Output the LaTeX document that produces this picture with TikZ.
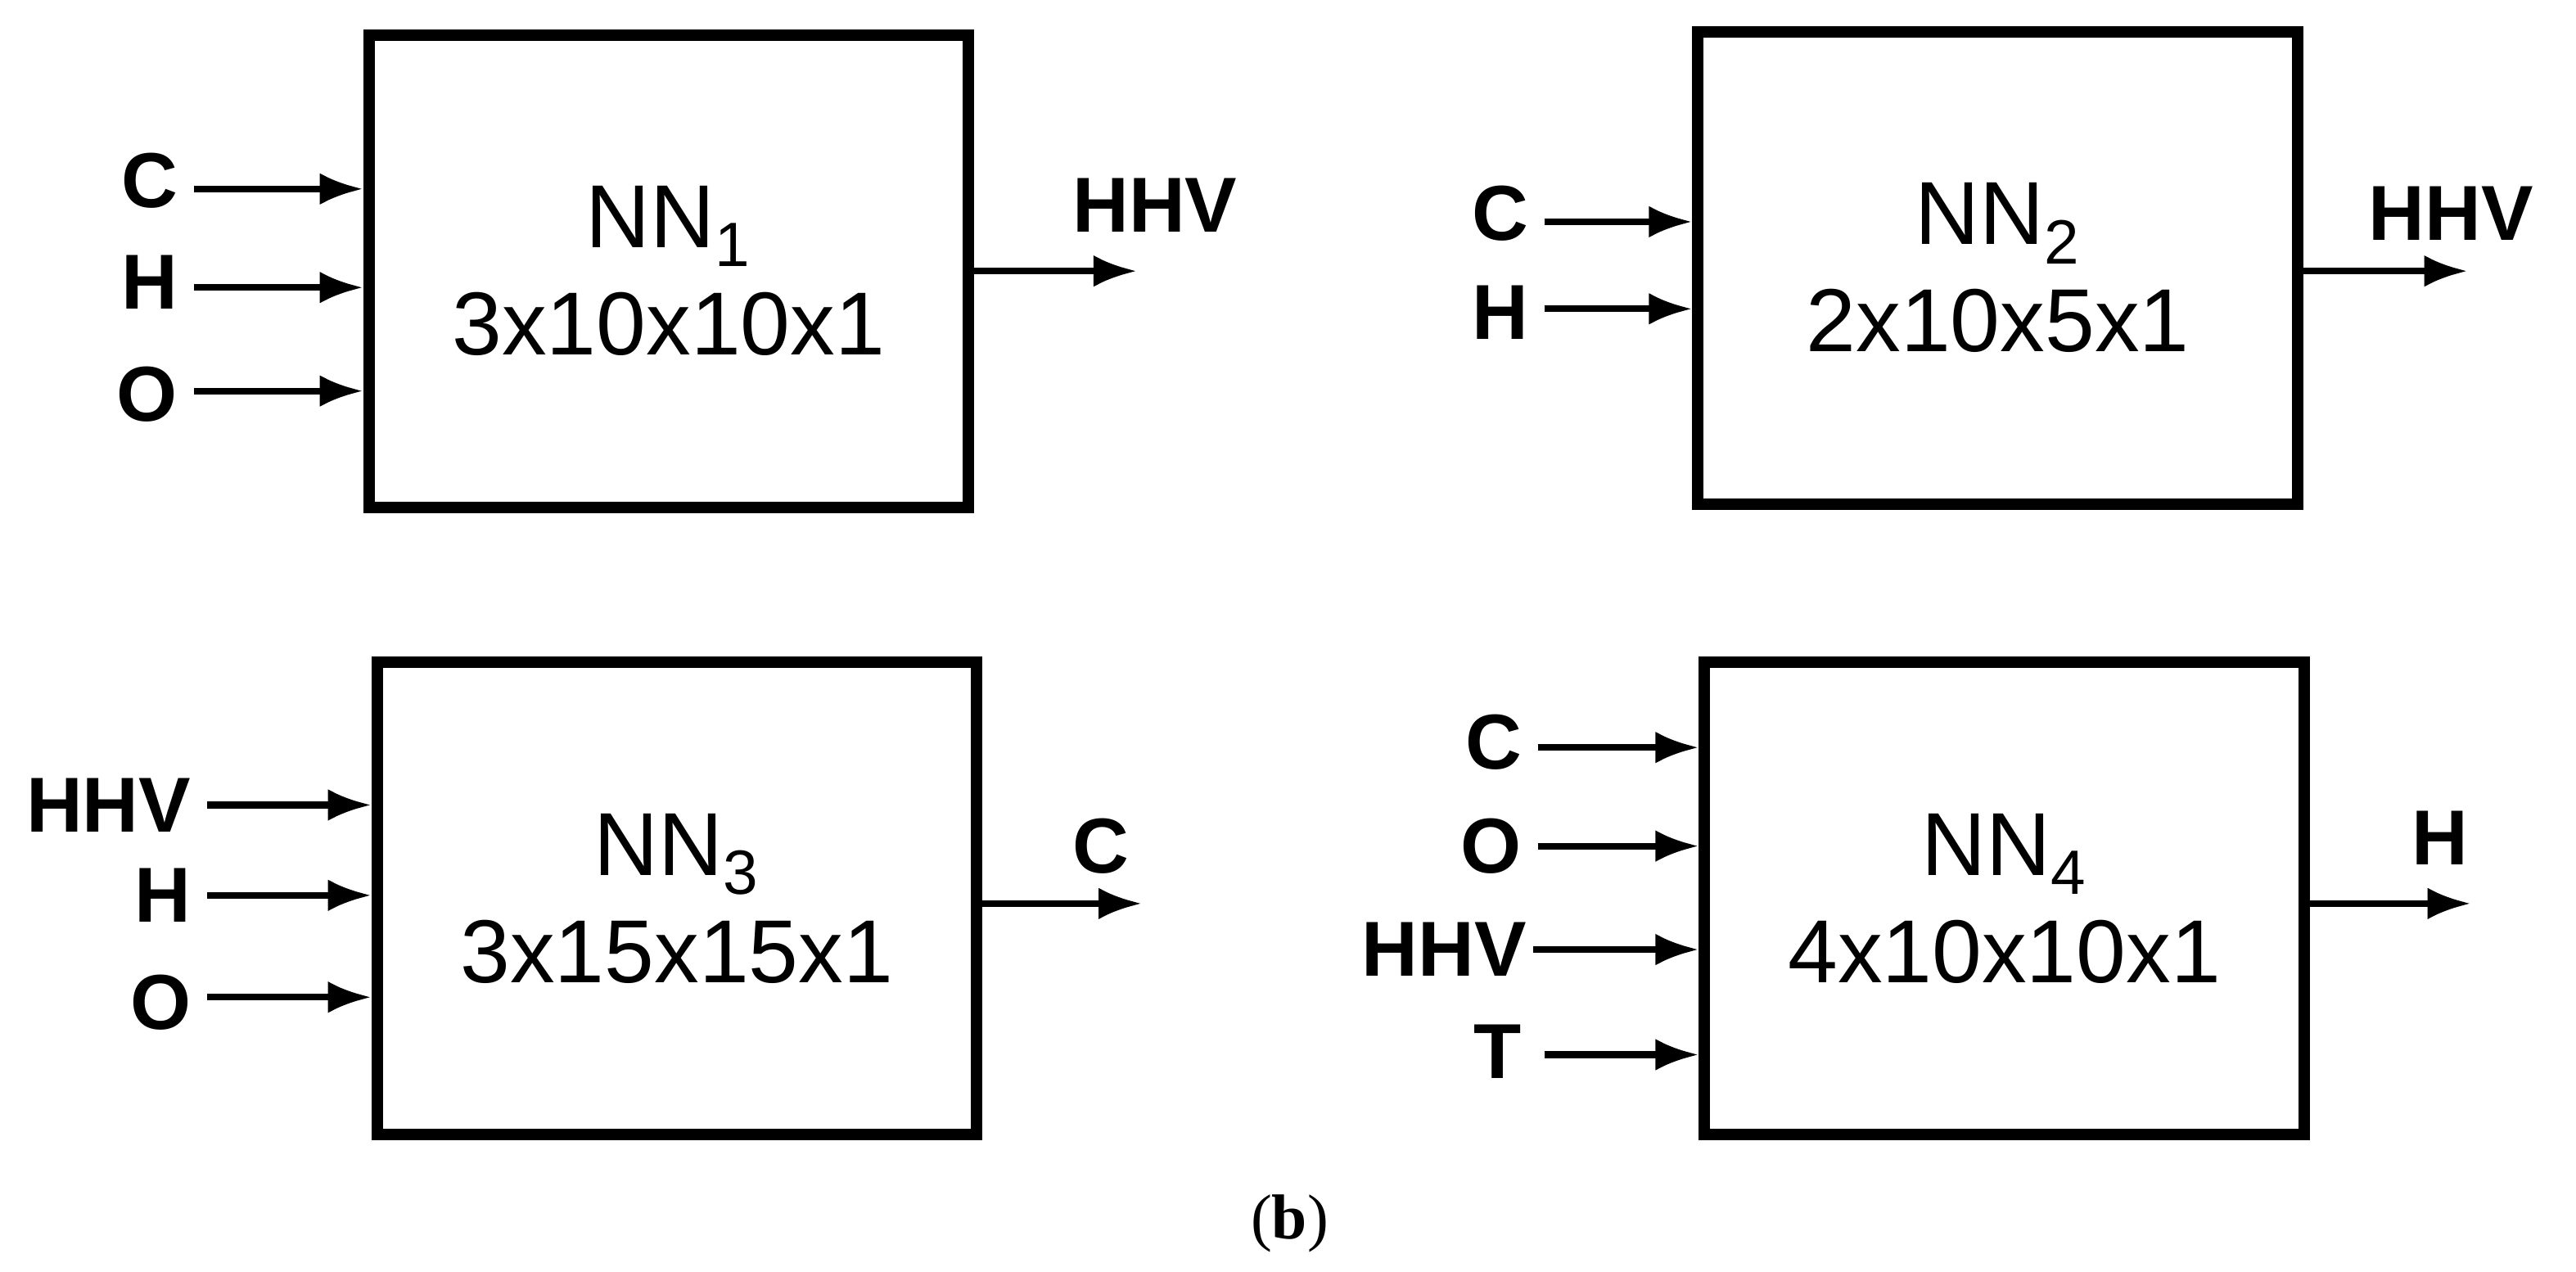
\documentclass[tikz,border=0pt]{standalone}
\usepackage{fontspec}
\setmainfont{Liberation Sans}
\newfontfamily\capfont{Liberation Serif}
\usetikzlibrary{arrows.meta}
\begin{document}
\begin{tikzpicture}[x=0.02cm,y=-0.02cm,
  box/.style={draw,line width=4pt,minimum width=7.3cm,minimum height=5.75cm,inner sep=0pt,align=center,font=\fontsize{31}{37}\selectfont},
  arr/.style={line width=2.3pt,-{Latex[length=15pt,width=11pt]}},
  lab/.style={font=\bfseries\fontsize{27}{32}\selectfont,inner sep=2pt}]
\useasboundingbox (0,0) rectangle (1568,774);
\node[box] (n1) at (407,165) {NN\textsubscript{1}\\3x10x10x1};
\node[box] (n2) at (1216,163) {NN\textsubscript{2}\\2x10x5x1};
\node[box] (n3) at (412,547) {NN\textsubscript{3}\\3x15x15x1};
\node[box] (n4) at (1220,547) {NN\textsubscript{4}\\4x10x10x1};
% NN1
\node[lab,anchor=east] (c1) at (112,110) {C};
\node[lab,anchor=east] (h1) at (112,172) {H};
\node[lab,anchor=east] (o1) at (112,240) {O};
\draw[arr] (118,115) -- (n1.west|-0,115);\draw[arr] (118,175) -- (n1.west|-0,175);\draw[arr] (118,238) -- (n1.west|-0,238);
\coordinate (q1) at (692,165);\draw[arr] (n1.east|-q1) -- (q1);
\node[lab] (y1) at (703,125) {HHV};
% NN2
\node[lab,anchor=east] (c2) at (934,130) {C};
\node[lab,anchor=east] (h2) at (934,190) {H};
\draw[arr] (940,135) -- (n2.west|-0,135);\draw[arr] (940,188) -- (n2.west|-0,188);
\coordinate (q2) at (1502,165);\draw[arr] (n2.east|-q2) -- (q2);
\node[lab] (y2) at (1492,130) {HHV};
% NN3
\node[lab,anchor=east] (a3) at (120,490) {HHV};
\node[lab,anchor=east] (h3) at (120,545) {H};
\node[lab,anchor=east] (o3) at (120,610) {O};
\draw[arr] (126,490) -- (n3.west|-0,490);\draw[arr] (126,545) -- (n3.west|-0,545);\draw[arr] (126,607) -- (n3.west|-0,607);
\coordinate (q3) at (695,550);\draw[arr] (n3.east|-q3) -- (q3);
\node[lab] (y3) at (670,515) {C};
% NN4
\node[lab,anchor=east] (c4) at (930,452) {C};
\node[lab,anchor=east] (o4) at (930,515) {O};
\node[lab,anchor=east] (a4) at (933,578) {HHV};
\node[lab,anchor=east] (t4) at (930,640) {T};
\draw[arr] (936,455) -- (n4.west|-0,455);\draw[arr] (936,515) -- (n4.west|-0,515);\draw[arr] (933,578) -- (n4.west|-0,578);\draw[arr] (940,642) -- (n4.west|-0,642);
\coordinate (q4) at (1504,550);\draw[arr] (n4.east|-q4) -- (q4);
\node[lab] (y4) at (1485,510) {H};
\node[font=\fontsize{22}{26}\selectfont\capfont] (b) at (785,745) {(\textbf{b})};
\end{tikzpicture}
\end{document}
